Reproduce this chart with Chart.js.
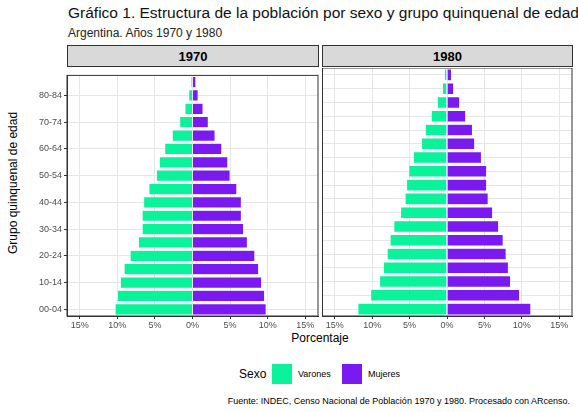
<!DOCTYPE html>
<html><head><meta charset="utf-8">
<script src="https://cdn.jsdelivr.net/npm/chart.js@4"></script>
<style>
body{margin:0;width:578px;height:412px;background:#fff;font-family:"Liberation Sans",Arial,sans-serif;position:relative;overflow:hidden}
.abs{position:absolute;white-space:nowrap}
.strip{position:absolute;top:45px;height:22px;background:#d9d9d9;border:1px solid #333;font-weight:bold;font-size:13px;text-align:center;line-height:22px;box-sizing:border-box}
.box{position:absolute;top:364px;width:20px;height:20px}
</style></head><body>
<div class="abs" style="left:68px;top:4px;font-size:15.5px;color:#111">Gráfico 1. Estructura de la población por sexo y grupo quinquenal de edad.</div>
<div class="abs" style="left:68px;top:26px;font-size:12px;color:#222">Argentina. Años 1970 y 1980</div>
<div class="strip" style="left:67px;width:252px">1970</div>
<div class="strip" style="left:322px;width:251px">1980</div>
<div class="abs" style="left:-52px;top:182px;width:130px;text-align:center;font-size:12px;transform:rotate(-90deg)">Grupo quinquenal de edad</div>
<div class="abs" style="left:280px;top:331px;width:80px;text-align:center;font-size:12px">Porcentaje</div>
<div class="abs" style="left:239px;top:367px;font-size:12px">Sexo</div>
<div class="box" style="left:272px;background:#0af29a"></div>
<div class="abs" style="left:298px;top:369px;font-size:9px">Varones</div>
<div class="box" style="left:342px;background:#7a1af0"></div>
<div class="abs" style="left:368px;top:369px;font-size:9px">Mujeres</div>
<div class="abs" style="right:8px;top:396px;font-size:9px">Fuente: INDEC, Censo Nacional de Población 1970 y 1980. Procesado con ARcenso.</div>
<div class="abs" style="left:0;top:68px;width:320px;height:262px"><canvas id="c1"></canvas></div>
<div class="abs" style="left:322px;top:68px;width:256px;height:262px"><canvas id="c2"></canvas></div>
<script>
const grupos = ["00-04","05-09","10-14","15-19","20-24","25-29","30-34","35-39","40-44","45-49","50-54","55-59","60-64","65-69","70-74","75-79","80-84","85 y más"]
const varones1970 = [10.3,10.0,9.6,9.1,8.3,7.2,6.7,6.7,6.5,5.8,4.8,4.4,3.7,2.7,1.7,1.0,0.5,0.2]
const mujeres1970 = [9.8,9.6,9.2,8.8,8.3,7.3,6.8,6.5,6.5,5.9,5.0,4.7,3.9,3.0,2.1,1.4,0.75,0.45]
const varones1980 = [11.9,10.2,9.0,8.5,8.0,7.6,7.1,6.2,5.6,5.4,5.1,4.5,3.4,2.9,2.1,1.3,0.6,0.35]
const mujeres1980 = [11.2,9.7,8.5,8.2,7.9,7.5,6.9,6.1,5.5,5.3,5.3,4.6,3.7,3.4,2.5,1.7,0.9,0.6]
const xTicks = [-15,-12.5,-10,-7.5,-5,-2.5,0,2.5,5,7.5,10,12.5,15]

function makeChart(id, varones, mujeres, showY){
new Chart(document.getElementById(id),{
type:'bar',
data:{
labels: grupos,
datasets:[
{label:'Varones',data:varones.map(v=>-v),backgroundColor:'#0af29a',borderColor:'rgba(255,255,255,0.6)',borderWidth:0.5},
{label:'Mujeres',data:mujeres,backgroundColor:'#7a1af0',borderColor:'rgba(255,255,255,0.6)',borderWidth:0.5}
]
},
options:{
indexAxis:'y',responsive:true,maintainAspectRatio:false,animation:false,
layout:{padding:{right:showY?2:6,top:0}},
plugins:{legend:{display:false},tooltip:{enabled:false}},
scales:{
x:{stacked:true,min:-16.7,max:16.7,
afterBuildTicks:a=>{a.ticks=xTicks.map(v=>({value:v}))},
afterFit:a=>{a.height=14},
border:{color:'#333'},
grid:{color:c=>(c.tick&&c.tick.value%5===0)?'#e6e6e6':'#f3f3f3',tickLength:3,tickColor:'#333'},
ticks:{color:'#4d4d4d',font:{size:9},padding:1,maxRotation:0,
callback:(v)=>v%5===0?Math.abs(v)+'%':''}},
y:{stacked:true,reverse:true,
afterFit:a=>{if(showY)a.width=67;else a.width=0},
border:{color:'#333'},
grid:{offset:false,color:'#e6e6e6',tickLength:3,tickColor:'#333'},
ticks:{display:showY,color:'#4d4d4d',font:{size:9},padding:2},
},
},
datasets:{bar:{barPercentage:0.84,categoryPercentage:1}}
},
plugins:[{id:'frame',afterDraw(ch){const a=ch.chartArea,c=ch.ctx;c.save();c.strokeStyle='#333';c.lineWidth=1;c.strokeRect(a.left,a.top,a.right-a.left,a.bottom-a.top);c.restore()}}]
})
}
makeChart('c1',varones1970,mujeres1970,true)
makeChart('c2',varones1980,mujeres1980,false)
</script>
</body></html>
